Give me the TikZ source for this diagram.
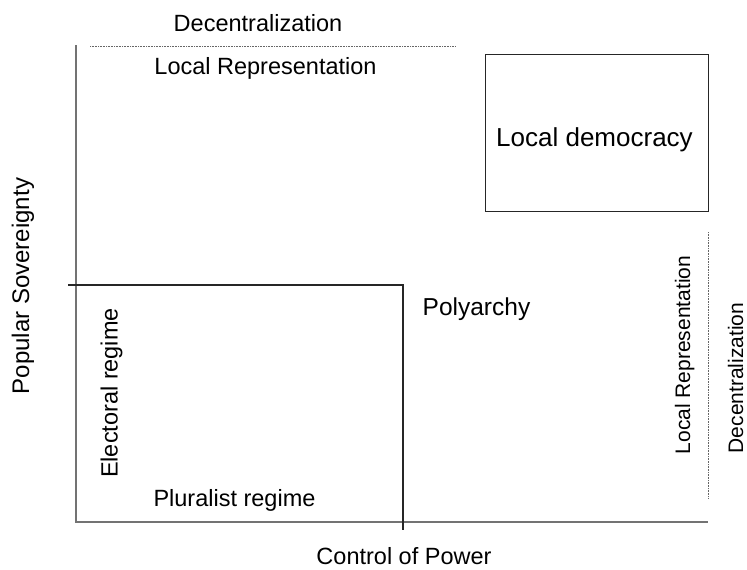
\documentclass[tikz,border=0pt]{standalone}
\usepackage{fontspec}
\setmainfont{Liberation Sans}
\begin{document}
\begin{tikzpicture}[x=1pt,y=-1pt,
  lbl/.style={inner sep=0pt, font=\fontsize{23.5}{28}\selectfont},
  biglbl/.style={inner sep=0pt, font=\fontsize{26}{31}\selectfont},
  sidelbl/.style={inner sep=0pt, font=\fontsize{21}{25}\selectfont},
  axisline/.style={draw=black!55, line width=1.5pt},
  frameline/.style={draw=black!85, line width=1.1pt},
  dotline/.style={draw=black!60, line width=0.8pt, dash pattern=on 0.8pt off 0.8pt},
]
\useasboundingbox (0,0) rectangle (747,570);
% axes
\coordinate (ytop) at (76,45);
\coordinate (orig) at (76,522);
\coordinate (xend) at (708,522);
\draw[axisline] (ytop) -- (orig) -- (xend);
% lower-left quadrant frame
\coordinate (fl) at (68,285);
\coordinate (fc) at (403,285);
\coordinate (fb) at (403,530);
\draw[frameline] (fl) -- (fc) -- (fb);
% dotted guides
\coordinate (dt1) at (90,46);
\coordinate (dt2) at (456,46);
\draw[dotline] (dt1) -- (dt2);
\coordinate (dr1) at (708,232);
\coordinate (dr2) at (708,498);
\draw[dotline] (dr1) -- (dr2);
% local democracy box
\node[frameline, draw, minimum width=223pt, minimum height=157pt, inner sep=0pt, anchor=north west] (ldbox) at (485,54) {};
\node[biglbl, anchor=base] (ld) at (594.5,146) {Local democracy};
% labels
\node[lbl, anchor=base] (dectop) at (258,31.7) {Decentralization};
\node[lbl, anchor=base] (lrtop) at (265.5,74.3) {Local Representation};
\node[lbl, font=\fontsize{24.5}{29}\selectfont, anchor=base] (poly) at (476.5,315) {Polyarchy};
\node[lbl, anchor=base] (plur) at (234.5,506.7) {Pluralist regime};
\node[lbl, anchor=base] (ctrl) at (404,564.5) {Control of Power};
\node[lbl, anchor=base, rotate=90] (elec) at (117.5,393) {Electoral regime};
\node[lbl, font=\fontsize{24}{29}\selectfont, anchor=base, rotate=90] (pop) at (29,286) {Popular Sovereignty};
\node[sidelbl, anchor=base, rotate=90] (lrside) at (690,355) {Local Representation};
\node[sidelbl, anchor=base, rotate=90] (decside) at (743,378) {Decentralization};
\end{tikzpicture}
\end{document}
